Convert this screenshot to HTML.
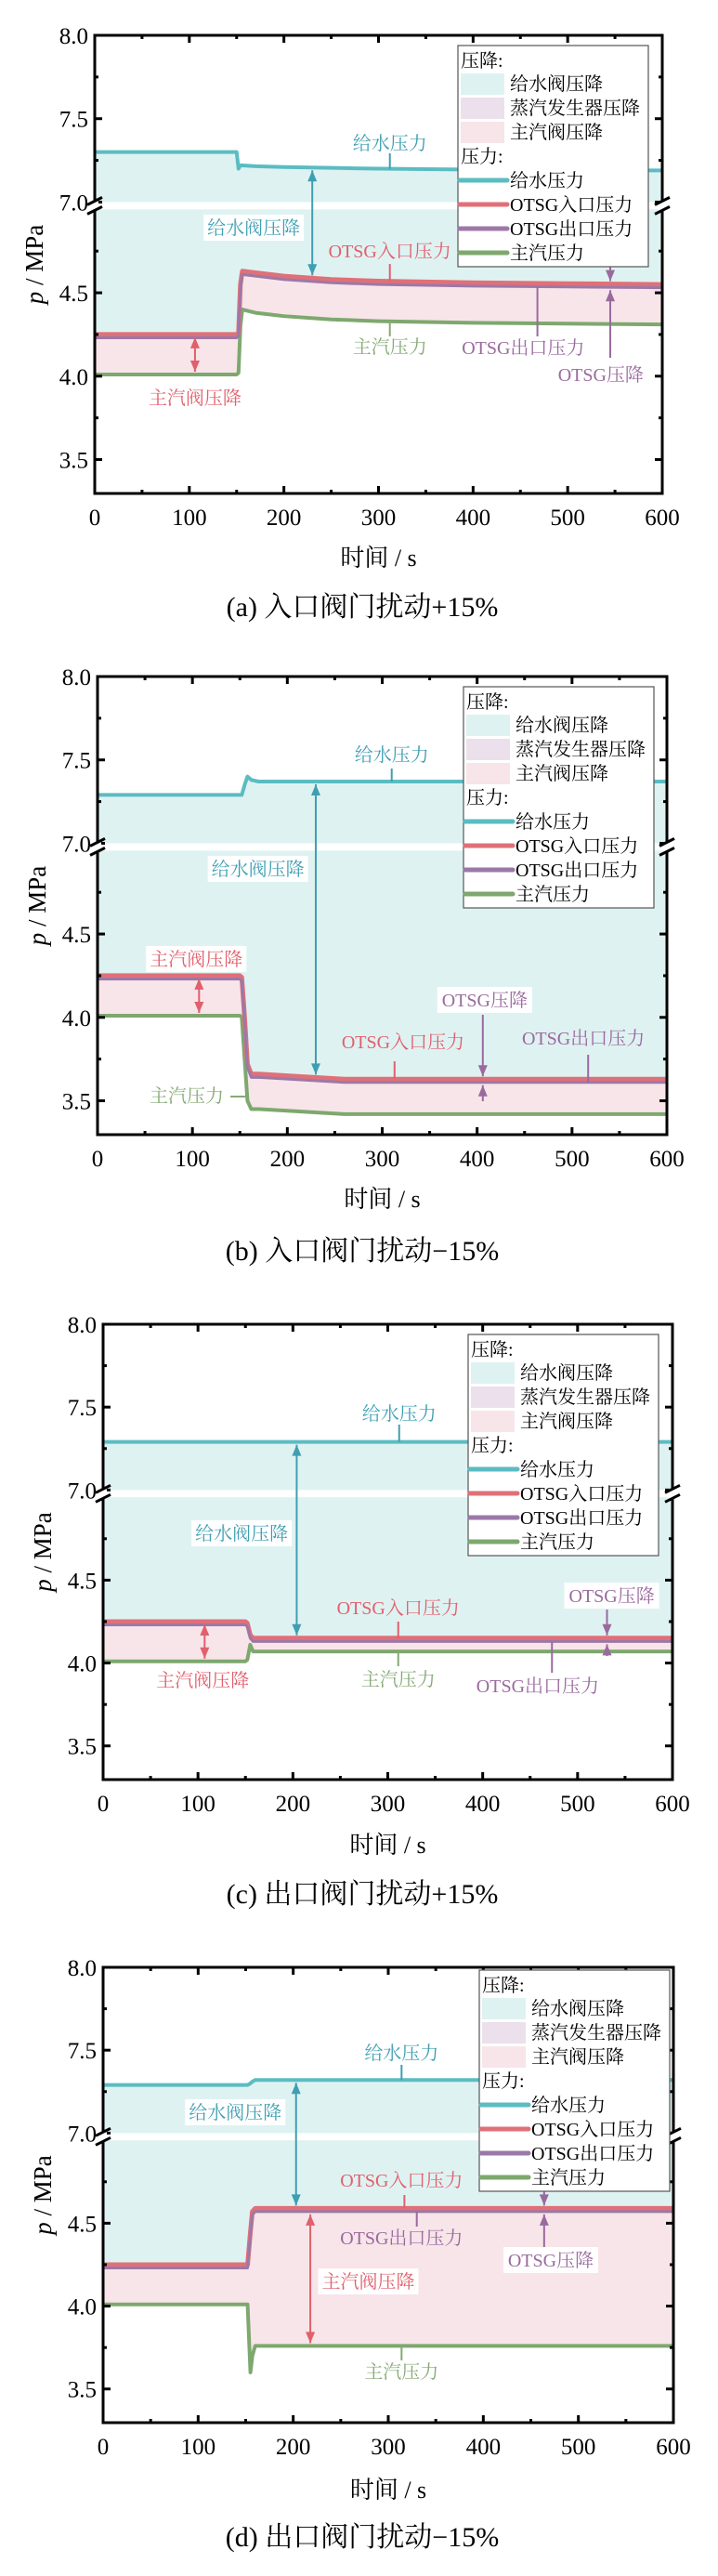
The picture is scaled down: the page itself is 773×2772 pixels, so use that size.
<!DOCTYPE html>
<html><head><meta charset="utf-8">
<style>
html,body{margin:0;padding:0;background:#fff;}
svg{display:block;font-family:"Liberation Serif","Noto Serif CJK SC",serif;}
</style></head>
<body>
<svg id="fig" width="773" height="2772" viewBox="0 0 773 2772" xmlns="http://www.w3.org/2000/svg"></svg>
<script>
// ---------- data (MPa vs s) ----------
const xTicks = [0,100,200,300,400,500,600];
const yTicksUpper = [7.0,7.5,8.0];
const yTicksLower = [3.5,4.0,4.5];
const yTickLabelsUpper = ["7.0","7.5","8.0"];
const yTickLabelsLower = ["3.5","4.0","4.5"];

const aTime  = [0,150,152,154,156,170,200,250,300,400,500,600];
const aFeed  = [7.30,7.30,7.20,7.22,7.22,7.215,7.21,7.205,7.20,7.195,7.19,7.19];
const aIn    = [4.25,4.25,4.26,4.55,4.63,4.62,4.60,4.58,4.57,4.56,4.555,4.55];
const aOut   = [4.23,4.23,4.24,4.53,4.61,4.60,4.58,4.56,4.55,4.54,4.535,4.53];
const aSteam = [4.01,4.01,4.02,4.30,4.40,4.38,4.36,4.34,4.33,4.32,4.315,4.31];

const bTime  = [0,150,152,155,158,162,170,200,260,300,400,500,600];
const bFeed  = [7.29,7.29,7.29,7.35,7.40,7.38,7.37,7.37,7.37,7.37,7.37,7.37,7.37];
const bIn    = [4.25,4.25,4.24,4.00,3.72,3.66,3.66,3.65,3.63,3.63,3.63,3.63,3.63];
const bOut   = [4.23,4.23,4.22,3.98,3.70,3.64,3.64,3.63,3.61,3.61,3.61,3.61,3.61];
const bSteam = [4.01,4.01,4.00,3.75,3.50,3.45,3.45,3.44,3.42,3.42,3.42,3.42,3.42];

const cTime  = [0,150,152,155,158,600];
const cFeed  = [7.29,7.29,7.29,7.29,7.29,7.29];
const cIn    = [4.25,4.25,4.24,4.17,4.15,4.15];
const cOut   = [4.23,4.23,4.22,4.15,4.13,4.13];
const cSteam = [4.01,4.01,4.02,4.11,4.07,4.07];

const dTime  = [0,152,155,157,160,165,600];
const dFeed  = [7.29,7.29,7.30,7.31,7.32,7.32,7.32];
const dIn    = [4.25,4.25,4.45,4.57,4.59,4.59,4.59];
const dOut   = [4.23,4.23,4.43,4.55,4.57,4.57,4.57];
const dSteam = [4.01,4.01,3.60,3.70,3.76,3.76,3.76];

const legendDropNames = ["给水阀压降","蒸汽发生器压降","主汽阀压降"];
const legendLineNames = ["给水压力","OTSG入口压力","OTSG出口压力","主汽压力"];

// ---------- styles ----------
const C = {feed:"#5bbcc2", inl:"#e07078", outl:"#9c78a8", steam:"#7ea86e",
  feedT:"#3f9fb2", inT:"#e0606c", outT:"#9a6a9e", steamT:"#86aa76",
  fillFeed:"#dff2f2", fillSg:"#ece0ec", fillMs:"#f7e5e9"};
const NS = "http://www.w3.org/2000/svg";
const fig = document.getElementById('fig');
function mk(tag, attrs, parent){
  const e = document.createElementNS(NS, tag);
  for (const k in attrs) e.setAttribute(k, attrs[k]);
  (parent||fig).appendChild(e);
  return e;
}
function interp(ts, vs, t){
  for (let i=1;i<ts.length;i++){ if (t<=ts[i]){ const f=(t-ts[i-1])/(ts[i]-ts[i-1]); return vs[i-1]+f*(vs[i]-vs[i-1]); } }
  return vs[vs.length-1];
}

function drawPanel(p){
  const g = mk('g',{});
  
  
  const W = p.R-p.L, H = p.B-p.T;
  const X = t => p.L + t/600*W;
  const Y = v => p.T + H*(v>=6 ? (8-v)*0.364 : 0.562+(4.5-v)*0.364);
  const cid = 'clip'+p.id;
  const defs = mk('defs',{},g);
  const cp = mk('clipPath',{id:cid},defs);
  mk('rect',{x:p.L,y:p.T,width:W,height:H},cp);
  const plot = mk('g',{'clip-path':'url(#'+cid+')'},g);
  
  
  function band(top, bot, col, name){
    let pts = p.time.map((t,i)=>X(t)+','+Y(top[i]));
    for (let i=p.time.length-1;i>=0;i--) pts.push(X(p.time[i])+','+Y(bot[i]));
    const e = mk('polygon',{points:pts.join(' '),fill:col},plot);
    
    
  }
  band(p.feed, p.inl, C.fillFeed, 'feed-valve-drop-band');
  band(p.inl, p.outl, C.fillSg, 'sg-drop-band');
  band(p.outl, p.steam, C.fillMs, 'main-steam-valve-drop-band');
  const bw = mk('rect',{x:p.L,y:p.T+H*0.364,width:W,height:H*0.016,fill:'#fff'},plot);
  
  
  function line(vals, col, w, name){
    const e = mk('polyline',{points:p.time.map((t,i)=>X(t)+','+Y(vals[i])).join(' '),fill:'none',stroke:col,'stroke-width':w,'stroke-linejoin':'round'},plot);
    
    
  }
  line(p.feed, C.feed, 4, 'feed-pressure-line');
  line(p.steam, C.steam, 4, 'main-steam-pressure-line');
  line(p.inl, C.inl, 5, 'otsg-inlet-pressure-line');
  line(p.outl, C.outl, 3, 'otsg-outlet-pressure-line');

  function txt(x,y,s,col,name,box,size){
    size = size||20;
    if (box){
      const w = s.length*size * (/[A-Z]/.test(s)?0.8:1.02);
      const r = mk('rect',{x:x-w/2-3,y:y-14,width:w+6,height:28,fill:'#fff'},g);
      
      
    }
    const e = mk('text',{x:x,y:y+7,'text-anchor':'middle','font-size':size,fill:col},g);
    e.textContent = s;
    
    
  }
  function seg(x1,y1,x2,y2,col,name){
    const e = mk('line',{x1:x1,y1:y1,x2:x2,y2:y2,stroke:col,'stroke-width':2},g);
    
    
  }
  function head(x,y,dir,col){
    const e = mk('polygon',{points:`${x},${y} ${x-5},${y-dir*12} ${x+5},${y-dir*12}`,fill:col},g);
    
    
  }
  function dbl(t, v1, v2, col, name){
    const x=X(t), y1=Y(v1)+3, y2=Y(v2)-3;
    seg(x,y1,x,y2,col,name); head(x,y1,-1,col); head(x,y2,1,col);
  }
  for (const a of p.ann){
    if (a.kind==='dbl') dbl(a.t, interp(p.time,p[a.s1],a.t), interp(p.time,p[a.s2],a.t), a.col, a.name);
    else if (a.kind==='down'){ const x=X(a.t), y=Y(interp(p.time,p[a.s],a.t))-3; seg(x,a.y,x,y,a.col,a.name); head(x,y,1,a.col); }
    else if (a.kind==='up'){ const x=X(a.t), y=Y(interp(p.time,p[a.s],a.t))+3; seg(x,a.y,x,y,a.col,a.name); head(x,y,-1,a.col); }
    else if (a.kind==='tick'){ const x=X(a.t); seg(x,a.y,x,Y(interp(p.time,p[a.s],a.t)),a.col,a.name); }
    else if (a.kind==='hseg'){ seg(X(a.t1),a.y,X(a.t2),a.y,a.col,a.name); }
    else if (a.kind==='text') txt(X(a.t), a.y, a.s, a.col, a.name, a.box);
  }

  const fr = mk('rect',{x:p.L,y:p.T,width:W,height:H,fill:'none',stroke:'#000','stroke-width':3},g);
  
  
  for (let t=0;t<=600;t+=50){
    const major = t%100===0, len = major?8:4;
    mk('line',{x1:X(t),y1:p.B,x2:X(t),y2:p.B-len,stroke:'#000','stroke-width':3},g);
    mk('line',{x1:X(t),y1:p.T,x2:X(t),y2:p.T+len,stroke:'#000','stroke-width':3},g);
  }
  xTicks.forEach(t=>{
    const e = mk('text',{x:X(t),y:p.B+34,'text-anchor':'middle','font-size':25},g);
    e.textContent = String(t);
    
    
  });
  const yt = yTicksLower.concat(yTicksUpper), ytl = yTickLabelsLower.concat(yTickLabelsUpper);
  const minors = [3.75,4.25,4.75,7.25,7.75];
  yt.concat(minors).forEach(v=>{
    const len = minors.includes(v)?4:8;
    mk('line',{x1:p.L,y1:Y(v),x2:p.L+len,y2:Y(v),stroke:'#000','stroke-width':3},g);
    mk('line',{x1:p.R,y1:Y(v),x2:p.R-len,y2:Y(v),stroke:'#000','stroke-width':3},g);
  });
  yt.forEach((v,i)=>{
    const e = mk('text',{x:p.L-7,y:Y(v)+9,'text-anchor':'end','font-size':25},g);
    e.textContent = ytl[i];
    
    
  });
  const yb = p.T + H*0.372;
  [p.L,p.R].forEach(x=>{
    mk('rect',{x:x-4,y:yb-5,width:8,height:10,fill:'#fff'},g);
    mk('line',{x1:x-8,y1:yb-1,x2:x+8,y2:yb-9,stroke:'#000','stroke-width':3},g);
    mk('line',{x1:x-8,y1:yb+9,x2:x+8,y2:yb+1,stroke:'#000','stroke-width':3},g);
  });
  const xl = mk('text',{x:(p.L+p.R)/2,y:p.xlY+9,'text-anchor':'middle','font-size':26},g);
  xl.textContent = '时间 / s';
  
  
  const yl = mk('text',{x:0,y:0,'text-anchor':'middle','font-size':27,transform:`translate(${p.L-56},${(p.T+p.B)/2}) rotate(-90)`},g);
  yl.innerHTML = '<tspan font-style="italic">p</tspan> / MPa';
  
  
  const cap = mk('text',{x:390,y:p.capY+11,'text-anchor':'middle','font-size':30},g);
  cap.textContent = p.caption;
  
  

  const lg = mk('g',{},g);
  
  
  const x0=p.lx, y0=p.ly;
  mk('rect',{x:x0,y:y0,width:205,height:238,fill:'#fff',stroke:'#555','stroke-width':1.2},lg);
  function ltext(x,y,s){ const e=mk('text',{x:x,y:y+7,'font-size':20},lg); e.textContent=s;   }
  ltext(x0+3,y0+16,'压降:');
  const sw=[C.fillFeed,C.fillSg,C.fillMs];
  legendDropNames.forEach((s,i)=>{
    const yy=y0+41+i*26;
    const r=mk('rect',{x:x0+3,y:yy-11,width:47,height:23,fill:sw[i]},lg);
    
    
    ltext(x0+56,yy,s);
  });
  ltext(x0+3,y0+119,'压力:');
  const lc=[C.feed,C.inl,C.outl,C.steam];
  legendLineNames.forEach((s,i)=>{
    const yy=y0+145+i*26;
    const l=mk('line',{x1:x0+2,y1:yy,x2:x0+53,y2:yy,stroke:lc[i],'stroke-width':5,'stroke-linecap':'round'},lg);
    
    
    ltext(x0+56,yy,s);
  });
}

const panels = [
 {id:'a',L:102,R:713,T:38,B:531,xlY:600,capY:652,lx:493,ly:49,caption:'(a) 入口阀门扰动+15%',
  time:aTime,feed:aFeed,inl:aIn,outl:aOut,steam:aSteam,
  ann:[
   {kind:'tick',t:312,y:165,s:'feed',col:C.feedT,name:'feed-label-leader'},
   {kind:'text',t:312,y:154,s:'给水压力',col:C.feedT,name:'feed-pressure-label'},
   {kind:'dbl',t:230,s1:'feed',s2:'inl',col:C.feedT,name:'feed-valve-drop-arrow'},
   {kind:'text',t:168,y:245,s:'给水阀压降',col:C.feedT,name:'feed-valve-drop-label',box:1},
   {kind:'tick',t:312,y:284,s:'inl',col:C.inT,name:'inlet-label-leader'},
   {kind:'text',t:312,y:270,s:'OTSG入口压力',col:C.inT,name:'otsg-inlet-label'},
   {kind:'tick',t:312,y:362,s:'steam',col:C.steamT,name:'steam-label-leader'},
   {kind:'text',t:312,y:373,s:'主汽压力',col:C.steamT,name:'main-steam-label'},
   {kind:'tick',t:468,y:362,s:'outl',col:C.outT,name:'outlet-label-leader'},
   {kind:'text',t:453,y:374,s:'OTSG出口压力',col:C.outT,name:'otsg-outlet-label'},
   {kind:'down',t:545,y:287,s:'inl',col:C.outT,name:'otsg-drop-arrow-down'},
   {kind:'up',t:545,y:385,s:'outl',col:C.outT,name:'otsg-drop-arrow-up'},
   {kind:'text',t:535,y:403,s:'OTSG压降',col:C.outT,name:'otsg-drop-label'},
   {kind:'dbl',t:106,s1:'inl',s2:'steam',col:C.inT,name:'ms-valve-drop-arrow'},
   {kind:'text',t:106,y:428,s:'主汽阀压降',col:C.inT,name:'ms-valve-drop-label'}
  ]},
 {id:'b',L:105,R:718,T:728,B:1221,xlY:1290,capY:1345,lx:499,ly:739,caption:'(b) 入口阀门扰动−15%',
  time:bTime,feed:bFeed,inl:bIn,outl:bOut,steam:bSteam,
  ann:[
   {kind:'tick',t:310,y:827,s:'feed',col:C.feedT,name:'feed-label-leader'},
   {kind:'text',t:310,y:812,s:'给水压力',col:C.feedT,name:'feed-pressure-label'},
   {kind:'dbl',t:230,s1:'feed',s2:'inl',col:C.feedT,name:'feed-valve-drop-arrow'},
   {kind:'text',t:169,y:935,s:'给水阀压降',col:C.feedT,name:'feed-valve-drop-label',box:1},
   {kind:'text',t:104,y:1032,s:'主汽阀压降',col:C.inT,name:'ms-valve-drop-label',box:1},
   {kind:'dbl',t:107,s1:'inl',s2:'steam',col:C.inT,name:'ms-valve-drop-arrow'},
   {kind:'text',t:408,y:1076,s:'OTSG压降',col:C.outT,name:'otsg-drop-label',box:1},
   {kind:'down',t:406,y:1092,s:'inl',col:C.outT,name:'otsg-drop-arrow-down'},
   {kind:'up',t:406,y:1185,s:'outl',col:C.outT,name:'otsg-drop-arrow-up'},
   {kind:'tick',t:313,y:1142,s:'inl',col:C.inT,name:'inlet-label-leader'},
   {kind:'text',t:322,y:1121,s:'OTSG入口压力',col:C.inT,name:'otsg-inlet-label'},
   {kind:'tick',t:517,y:1135,s:'outl',col:C.outT,name:'outlet-label-leader'},
   {kind:'text',t:512,y:1117,s:'OTSG出口压力',col:C.outT,name:'otsg-outlet-label'},
   {kind:'hseg',t1:140,t2:156,y:1180,col:C.steamT,name:'steam-label-leader'},
   {kind:'text',t:94,y:1179,s:'主汽压力',col:C.steamT,name:'main-steam-label'}
  ]},
 {id:'c',L:111,R:724,T:1425,B:1915,xlY:1985,capY:2037,lx:504,ly:1436,caption:'(c) 出口阀门扰动+15%',
  time:cTime,feed:cFeed,inl:cIn,outl:cOut,steam:cSteam,
  ann:[
   {kind:'tick',t:312,y:1533,s:'feed',col:C.feedT,name:'feed-label-leader'},
   {kind:'text',t:312,y:1521,s:'给水压力',col:C.feedT,name:'feed-pressure-label'},
   {kind:'dbl',t:204,s1:'feed',s2:'inl',col:C.feedT,name:'feed-valve-drop-arrow'},
   {kind:'text',t:146,y:1650,s:'给水阀压降',col:C.feedT,name:'feed-valve-drop-label',box:1},
   {kind:'tick',t:311,y:1745,s:'inl',col:C.inT,name:'inlet-label-leader'},
   {kind:'text',t:311,y:1730,s:'OTSG入口压力',col:C.inT,name:'otsg-inlet-label'},
   {kind:'text',t:536,y:1717,s:'OTSG压降',col:C.outT,name:'otsg-drop-label',box:1},
   {kind:'down',t:531,y:1732,s:'inl',col:C.outT,name:'otsg-drop-arrow-down'},
   {kind:'up',t:531,y:1782,s:'outl',col:C.outT,name:'otsg-drop-arrow-up'},
   {kind:'dbl',t:107,s1:'inl',s2:'steam',col:C.inT,name:'ms-valve-drop-arrow'},
   {kind:'text',t:105,y:1808,s:'主汽阀压降',col:C.inT,name:'ms-valve-drop-label'},
   {kind:'tick',t:311,y:1793,s:'steam',col:C.steamT,name:'steam-label-leader'},
   {kind:'text',t:311,y:1807,s:'主汽压力',col:C.steamT,name:'main-steam-label'},
   {kind:'tick',t:473,y:1800,s:'outl',col:C.outT,name:'outlet-label-leader'},
   {kind:'text',t:458,y:1814,s:'OTSG出口压力',col:C.outT,name:'otsg-outlet-label'}
  ]},
 {id:'d',L:111,R:725,T:2117,B:2607,xlY:2679,capY:2729,lx:516,ly:2120,caption:'(d) 出口阀门扰动−15%',
  time:dTime,feed:dFeed,inl:dIn,outl:dOut,steam:dSteam,
  ann:[
   {kind:'tick',t:314,y:2222,s:'feed',col:C.feedT,name:'feed-label-leader'},
   {kind:'text',t:314,y:2209,s:'给水压力',col:C.feedT,name:'feed-pressure-label'},
   {kind:'dbl',t:203,s1:'feed',s2:'inl',col:C.feedT,name:'feed-valve-drop-arrow'},
   {kind:'text',t:139,y:2273,s:'给水阀压降',col:C.feedT,name:'feed-valve-drop-label',box:1},
   {kind:'tick',t:317,y:2362,s:'inl',col:C.inT,name:'inlet-label-leader'},
   {kind:'text',t:314,y:2346,s:'OTSG入口压力',col:C.inT,name:'otsg-inlet-label'},
   {kind:'tick',t:330,y:2396,s:'outl',col:C.outT,name:'outlet-label-leader'},
   {kind:'text',t:314,y:2408,s:'OTSG出口压力',col:C.outT,name:'otsg-outlet-label'},
   {kind:'down',t:464,y:2358,s:'inl',col:C.outT,name:'otsg-drop-arrow-down'},
   {kind:'up',t:464,y:2418,s:'outl',col:C.outT,name:'otsg-drop-arrow-up'},
   {kind:'text',t:471,y:2432,s:'OTSG压降',col:C.outT,name:'otsg-drop-label',box:1},
   {kind:'dbl',t:218,s1:'outl',s2:'steam',col:C.inT,name:'ms-valve-drop-arrow'},
   {kind:'text',t:279,y:2455,s:'主汽阀压降',col:C.inT,name:'ms-valve-drop-label',box:1},
   {kind:'tick',t:314,y:2540,s:'steam',col:C.steamT,name:'steam-label-leader'},
   {kind:'text',t:314,y:2552,s:'主汽压力',col:C.steamT,name:'main-steam-label'}
  ]}
];
panels.forEach(drawPanel);
</script>
</body></html>
